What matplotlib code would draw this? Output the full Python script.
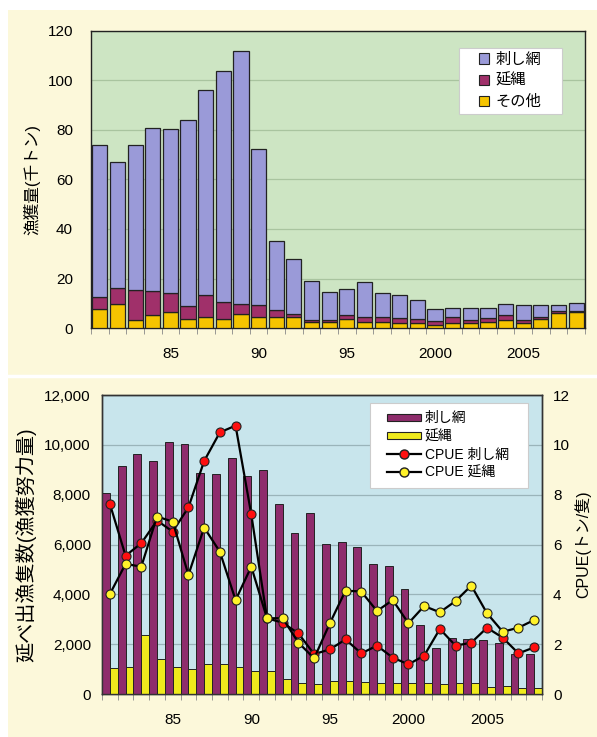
import matplotlib
matplotlib.use("Agg")
import matplotlib.pyplot as plt
from matplotlib.patches import Patch, Rectangle
from matplotlib.lines import Line2D
import numpy as np

plt.rcParams['font.family'] = ['Liberation Sans', 'Noto Sans CJK JP']

years = np.arange(1981, 2009)

# 漁獲量 (千トン)
catch_other = [7.8, 9.8, 3.1, 5.1, 6.5, 3.8, 4.5, 3.8, 5.8, 4.3, 4.3, 4.3, 2.3, 2.3,
               3.8, 2.4, 2.4, 2.0, 2.0, 1.1, 2.0, 2.0, 2.4, 3.1, 2.0, 3.8, 6.1, 6.5]
catch_longline = [4.6, 6.4, 12.1, 9.9, 7.7, 5.2, 9.0, 6.6, 4.0, 5.1, 3.1, 1.5, 1.1, 0.8,
                  1.3, 2.1, 2.1, 2.0, 1.8, 1.6, 2.5, 1.4, 1.6, 2.0, 1.4, 0.5, 0.6, 0.5]
catch_gillnet = [61.6, 50.8, 58.8, 66.0, 66.1, 75.0, 82.5, 93.6, 102.2, 63.1, 27.6, 22.2, 15.5, 11.5,
                 10.8, 14.0, 9.7, 9.5, 7.4, 5.0, 3.6, 4.7, 4.1, 4.7, 6.0, 4.9, 2.5, 2.9]

# 延べ出漁隻数
effort_gillnet = [8050, 9160, 9620, 9360, 10100, 10020, 8880, 8830, 9460, 8750, 8990, 7630, 6450, 7280,
                  6040, 6090, 5890, 5200, 5140, 4200, 2770, 1860, 2230, 2190, 2170, 2030, 1590, 1590]
effort_longline = [1030, 1070, 2370, 1400, 1070, 1000, 1200, 1190, 1070, 920, 920, 590, 430, 390,
                   540, 520, 500, 430, 430, 430, 430, 390, 430, 430, 270, 320, 230, 230]

# CPUE (トン/隻)
cpue_gillnet = [7.63, 5.55, 6.05, 6.96, 6.52, 7.49, 9.35, 10.5, 10.77, 7.21, 3.04, 2.86, 2.43, 1.6,
                1.79, 2.19, 1.63, 1.94, 1.46, 1.19, 1.54, 2.61, 1.94, 2.06, 2.66, 2.26, 1.63, 1.87]
cpue_longline = [4.01, 5.22, 5.11, 7.12, 6.92, 4.78, 6.68, 5.71, 3.77, 5.11, 3.04, 3.04, 2.06, 1.43,
                 2.84, 4.15, 4.11, 3.33, 3.77, 2.84, 3.53, 3.28, 3.73, 4.35, 3.24, 2.5, 2.66, 2.97]

label_years = [1985, 1990, 1995, 2000, 2005]
label_text = ['85', '90', '95', '2000', '2005']

cream = '#fcf8da'
fig = plt.figure(figsize=(5.97, 7.37), dpi=100, facecolor='white')
fig.patches.append(Rectangle((8/597, 0), 1 - 8/597, 1 - 10/737, transform=fig.transFigure,
                             facecolor=cream, edgecolor='none', zorder=-10))
fig.add_artist(Line2D([0, 1], [1 - 376/737] * 2, color='white', lw=2.5, transform=fig.transFigure))

# ---- 上段: 漁獲量 ----
ax1 = fig.add_axes([91/597, 1 - 328/737, 494/597, 297/737])
ax1.set_facecolor('#cde5c3')
w = 0.86
other = np.array(catch_other)
longl = np.array(catch_longline)
gill = np.array(catch_gillnet)
ax1.bar(years, other, w, color='#f5c400', edgecolor='#222222', lw=0.9, zorder=3)
ax1.bar(years, longl, w, bottom=other, color='#a0306a', edgecolor='#222222', lw=0.9, zorder=3)
ax1.bar(years, gill, w, bottom=other + longl, color='#9a9ad8', edgecolor='#222222', lw=0.9, zorder=3)
ax1.set_xlim(1980.5, 2008.5)
ax1.set_ylim(0, 120)
ax1.set_yticks(range(0, 121, 20))
ax1.yaxis.grid(True, color='#a9c49f', lw=0.9)
ax1.set_axisbelow(True)
ax1.set_xticks(label_years)
ax1.set_xticklabels(label_text)
ax1.set_xticks(np.arange(1980.5, 2009, 1), minor=True)
ax1.tick_params(axis='x', which='major', length=0, pad=14, labelsize=11)
ax1.tick_params(axis='x', which='minor', length=4, color='#888888')
ax1.tick_params(axis='y', length=0, pad=13, labelsize=11)
for s in ax1.spines.values():
    s.set_color('#222222')
    s.set_linewidth(1.0)
ax1.set_ylabel('漁獲量(千トン)', fontsize=12, labelpad=5)

# 凡例 (白枠は手で描く)
ax1.add_patch(Rectangle((0.745, 0.7205), 0.208, 0.2225, transform=ax1.transAxes,
                        facecolor='white', edgecolor='#cccccc', lw=0.8, zorder=5))
h1 = [Patch(facecolor='#9a9ad8', edgecolor='#222222', lw=0.8, label='刺し網'),
      Patch(facecolor='#a0306a', edgecolor='#222222', lw=0.8, label='延縄'),
      Patch(facecolor='#f5c400', edgecolor='#222222', lw=0.8, label='その他')]
leg1 = ax1.legend(handles=h1, loc='center', bbox_to_anchor=(0.849, 0.832), fontsize=11,
                  frameon=False, handlelength=0.65, handleheight=0.65, handletextpad=0.45,
                  labelspacing=0.45, borderpad=0)
leg1.set_zorder(6)

# ---- 下段: 延べ出漁隻数 と CPUE ----
ax2 = fig.add_axes([102/597, 1 - 694/737, 440/597, 299/737])
ax2.set_facecolor('#c8e5ec')
ax2.bar(years - 0.25, effort_gillnet, 0.5, color='#8e2c6c', edgecolor='#222222', lw=0.7, zorder=3)
ax2.bar(years + 0.25, effort_longline, 0.5, color='#efea1c', edgecolor='#222222', lw=0.7, zorder=3)
ax2.set_xlim(1980.5, 2008.5)
ax2.set_ylim(0, 12000)
ax2.set_yticks(range(0, 12001, 2000))
ax2.set_yticklabels([f'{v:,}' for v in range(0, 12001, 2000)])
ax2.yaxis.grid(True, color='#9ab4ba', lw=0.9)
ax2.set_axisbelow(True)
ax2.set_xticks(label_years)
ax2.set_xticklabels(label_text)
ax2.set_xticks(np.arange(1980.5, 2009, 1), minor=True)
ax2.tick_params(axis='x', which='major', length=0, pad=14, labelsize=11)
ax2.tick_params(axis='x', which='minor', length=4, color='#888888')
ax2.tick_params(axis='y', length=0, pad=8, labelsize=11)
ax2.set_ylabel('延べ出漁隻数(漁獲努力量)', fontsize=14.5, labelpad=6)

ax3 = ax2.twinx()
ax3.set_ylim(0, 12)
ax3.set_yticks(range(0, 13, 2))
ax3.tick_params(axis='y', length=0, pad=8, labelsize=11)
ax3.plot(years, cpue_gillnet, '-o', color='black', lw=1.6, ms=6.5,
         markerfacecolor='#ff1010', markeredgecolor='#222222', markeredgewidth=0.8, zorder=4)
ax3.plot(years, cpue_longline, '-o', color='black', lw=1.6, ms=6.5,
         markerfacecolor='#fff22a', markeredgecolor='#222222', markeredgewidth=0.8, zorder=4)
ax3.set_ylabel('CPUE(トン/隻)', fontsize=11.5, labelpad=3)
for a in (ax2, ax3):
    for s in a.spines.values():
        s.set_color('#333333')
        s.set_linewidth(1.0)

ax3.add_patch(Rectangle((0.609, 0.689), 0.359, 0.284, transform=ax3.transAxes,
                        facecolor='white', edgecolor='#cccccc', lw=0.8, zorder=5))
h2 = [Patch(facecolor='#8e2c6c', edgecolor='#222222', lw=0.8, label='刺し網'),
      Patch(facecolor='#efea1c', edgecolor='#222222', lw=0.8, label='延縄'),
      Line2D([], [], color='black', lw=1.6, marker='o', ms=6.5, markerfacecolor='#ff1010',
             markeredgecolor='#222222', label='CPUE 刺し網'),
      Line2D([], [], color='black', lw=1.6, marker='o', ms=6.5, markerfacecolor='#fff22a',
             markeredgecolor='#222222', label='CPUE 延縄')]
leg2 = ax3.legend(handles=h2, loc='center', bbox_to_anchor=(0.786, 0.831), fontsize=10,
                  frameon=False, handlelength=2.5, handleheight=0.45, handletextpad=0.25,
                  labelspacing=0.3, borderpad=0)
leg2.set_zorder(6)

fig.savefig('out.png', dpi=100, facecolor=fig.get_facecolor())
